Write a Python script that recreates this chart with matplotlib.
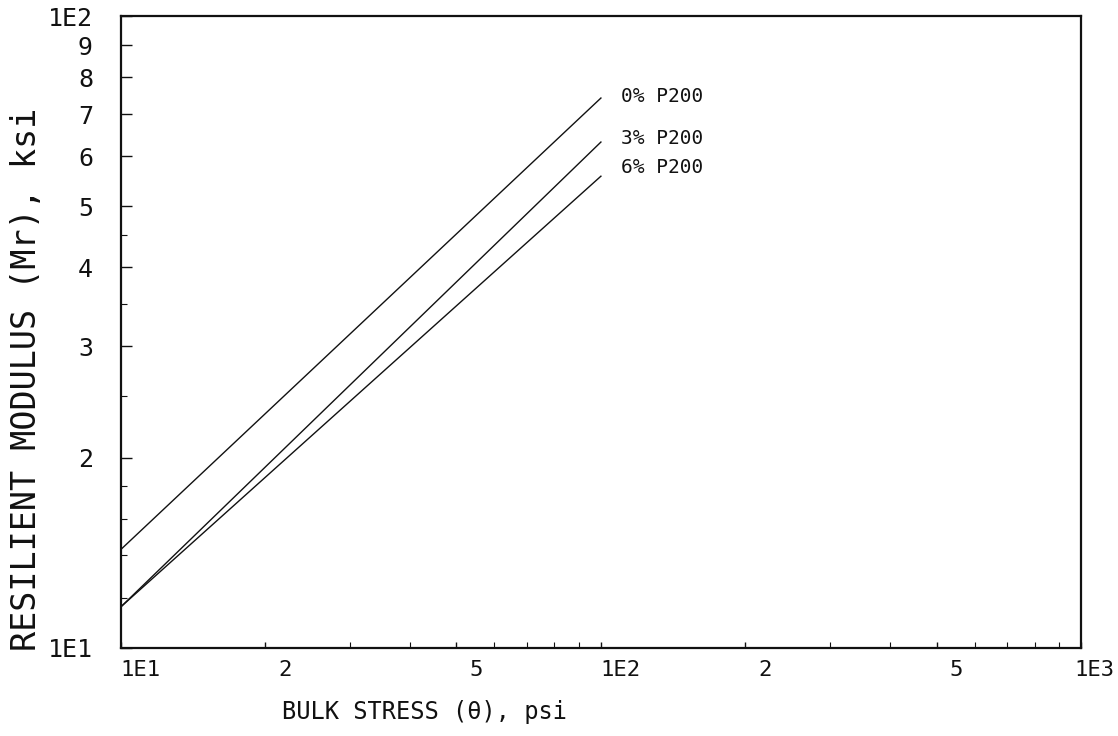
import matplotlib
matplotlib.use("Agg")
import matplotlib.pyplot as plt
import matplotlib.transforms as mtransforms
from matplotlib.ticker import FixedLocator, NullFormatter

# values (log-log)
bulk_stress = [10, 100]
mr_0pct = [14.3, 74.2]
mr_3pct = [11.6, 63.2]
mr_6pct = [11.6, 55.8]
series_names = ["0% P200", "3% P200", "6% P200"]
label_y = [74.5, 64.0, 57.5]

x_ticks = [10, 20, 50, 100, 200, 500, 1000]
x_tick_labels = ["1E1", "2", "5", "1E2", "2", "5", "1E3"]
y_ticks = [10, 20, 30, 40, 50, 60, 70, 80, 90, 100]
y_tick_labels = ["1E1", "2", "3", "4", "5", "6", "7", "8", "9", "1E2"]

FONT = "DejaVu Sans Mono"
INK = "#111111"

fig = plt.figure(figsize=(11.18, 7.36), dpi=100)
ax = fig.add_axes([0.108, 0.12, 0.859, 0.858])

for values in (mr_0pct, mr_3pct, mr_6pct):
    ax.plot(bulk_stress, values, color=INK, linewidth=1.0)

for name, y in zip(series_names, label_y):
    ax.text(110, y, name, fontsize=14, family=FONT, color=INK, va="center", ha="left")

ax.set_xscale("log")
ax.set_yscale("log")
ax.set_xlim(10, 1000)
ax.set_ylim(10, 100)

ax.xaxis.set_major_locator(FixedLocator(x_ticks))
ax.set_xticklabels(x_tick_labels)
ax.xaxis.set_minor_locator(FixedLocator([3, 4, 6, 7, 8, 9, 30, 40, 60, 70, 80, 90, 300, 400, 600, 700, 800, 900]))
ax.xaxis.set_minor_formatter(NullFormatter())
ax.yaxis.set_major_locator(FixedLocator(y_ticks))
ax.set_yticklabels(y_tick_labels)
ax.yaxis.set_minor_locator(FixedLocator([12, 14, 16, 18, 25, 35, 45]))
ax.yaxis.set_minor_formatter(NullFormatter())

ax.tick_params(axis="both", which="major", direction="in", length=8, width=1.0, color=INK,
               labelcolor=INK)
ax.tick_params(axis="both", which="minor", direction="in", length=4, width=0.8, color=INK)
ax.tick_params(axis="x", which="major", length=4, pad=9, labelsize=16)
ax.tick_params(axis="y", pad=20, labelsize=18)

for lbl in ax.get_xticklabels() + ax.get_yticklabels():
    lbl.set_family(FONT)

# the plotter labels sit a little right of their ticks; the last one stays inside the page
xlabels = ax.get_xticklabels()
for i, lbl in enumerate(xlabels):
    dx = 0.13 if i == len(xlabels) - 1 else 0.2
    lbl.set_transform(lbl.get_transform() + mtransforms.ScaledTranslation(dx, 0, fig.dpi_scale_trans))

for spine in ax.spines.values():
    spine.set_linewidth(1.6)
    spine.set_color(INK)

fig.text(0.38, 0.032, "BULK STRESS (\u03b8), psi", fontsize=17, family=FONT, color=INK,
         ha="center", va="center")
fig.text(0.024, 0.484, "RESILIENT MODULUS (Mr), ksi", fontsize=24, family=FONT, color=INK,
         ha="center", va="center", rotation=90)

fig.savefig("out.png", dpi=100, facecolor="white")
